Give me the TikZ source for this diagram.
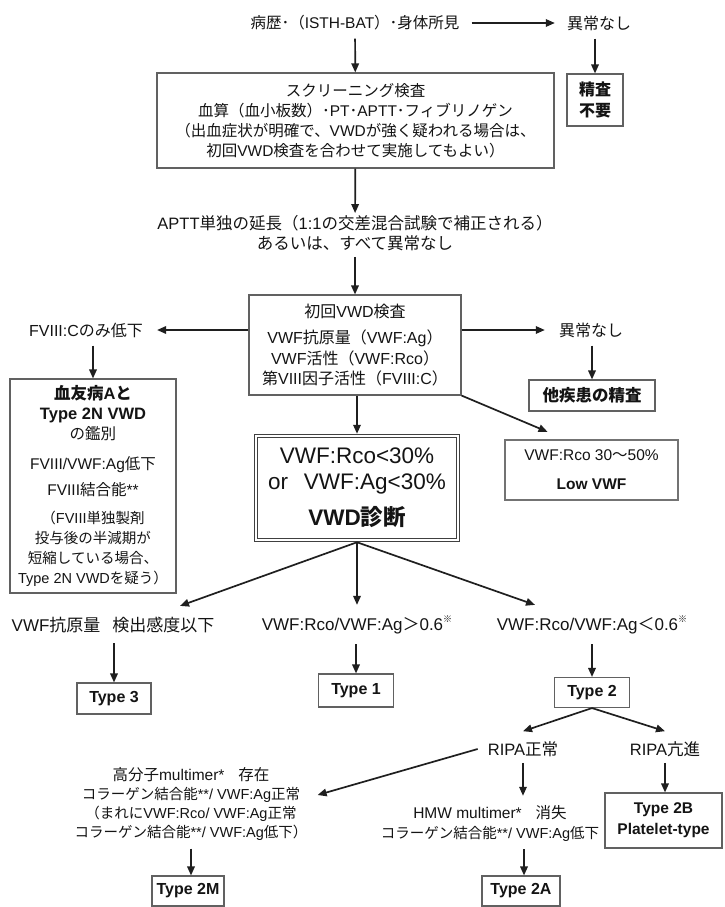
\documentclass[tikz,border=0pt]{standalone}
\usepackage{fontspec}
\setmainfont{Liberation Sans}
\newfontfamily\cjkfont{Noto Sans CJK JP}
\newfontfamily\latfont{Liberation Sans}
\XeTeXinterchartokenstate=1
\makeatletter
\def\setcjkrange#1#2{\count@=#1\relax
  \loop\XeTeXcharclass\count@=1\relax
  \ifnum\count@<#2\relax\advance\count@ by 1\repeat}
\setcjkrange{"3000}{"30FF}
\setcjkrange{"3400}{"9FFF}
\setcjkrange{"FF00}{"FFEF}
\XeTeXcharclass"203B=1
\makeatother
\XeTeXinterchartoks 0 1 = {\cjkfont}
\XeTeXinterchartoks 4095 1 = {\cjkfont}
\XeTeXinterchartoks 1 0 = {\latfont}
\XeTeXinterchartoks 4095 0 = {\latfont}
\usetikzlibrary{arrows.meta,calc}
\newcommand{\sups}[1]{\raisebox{0.45em}{\fontsize{9}{9}\selectfont #1}}
\newcommand{\hbig}[1]{{\bfseries\fontsize{16.5}{20}\selectfont #1}}
\newcommand{\hsml}[1]{{\fontsize{14.5}{20}\selectfont #1}}
\begin{document}
\begin{tikzpicture}[x=1pt,y=-1pt,
  every node/.style={text=black!92},
  ar/.style={line width=1.7pt,draw=black!88,-{Triangle[length=9pt,width=7.5pt]}},
  box/.style={draw=black!62,line width=1.1pt,inner sep=0pt,align=center},
  txt/.style={inner sep=2pt,align=center},
  fA/.style={font=\fontsize{16}{20}\selectfont},
  fL/.style={font=\fontsize{17}{20}\selectfont},
  tp/.style={box,font=\bfseries\fontsize{16}{20}\selectfont,minimum height=31pt}]
\fill[white] (0,0) rectangle (724,907);
\useasboundingbox (0,0) rectangle (724,907);

% nodes
\node[txt,font=\fontsize{15.5}{20}\selectfont] (hist) at (355,23) {病歴･（ISTH-BAT）･身体所見};
\node[txt,fA] (nor1) at (599,23) {異常なし};
\node[box,font=\bfseries\fontsize{16}{21}\selectfont,minimum width=56pt,minimum height=52pt] (nopre) at (595,100) {精査\\不要};
\node[box,font=\fontsize{15.5}{20}\selectfont,minimum width=397pt,minimum height=95pt] (screen) at (355.5,120.5) {スクリーニング検査\\血算（血小板数）･PT･APTT･フィブリノゲン\\（出血症状が明確で、VWDが強く疑われる場合は、\\初回VWD検査を合わせて実施してもよい）};
\node[txt,font=\fontsize{16.5}{20}\selectfont] (aptt) at (355,233) {APTT単独の延長（1:1の交差混合試験で補正される）\\あるいは、すべて異常なし};
\node[box,font=\fontsize{16}{20.5}\selectfont,minimum width=212pt,minimum height=100pt] (init) at (355,345) {初回VWD検査\\[6pt]VWF抗原量（VWF:Ag）\\VWF活性（VWF:Rco）\\第VIII因子活性（FVIII:C）};
\node[txt,fA] (fv) at (86,330) {FVIII:Cのみ低下};
\node[txt,fA] (nor2) at (591,330) {異常なし};
\node[box,font=\fontsize{15.5}{20}\selectfont,minimum width=166pt,minimum height=214pt] (hemo) at (93,486) {\hbig{血友病Aと}\\\hbig{Type 2N VWD}\\の鑑別\\[10pt]FVIII/VWF:Ag低下\\[6pt]FVIII結合能**\\[8pt]\hsml{（FVIII単独製剤}\\\hsml{投与後の半減期が}\\\hsml{短縮している場合、}\\\hsml{Type 2N VWDを疑う）}};
\node[box,font=\bfseries\fontsize{16.5}{20}\selectfont,minimum width=126pt,minimum height=31pt] (other) at (592,395.5) {他疾患の精査};
\node[box,draw=black!55,line width=2.4pt,font=\fontsize{15.5}{29}\selectfont,minimum width=173pt,minimum height=60pt] (low) at (591.5,470) {VWF:Rco 30～50\%\\\textbf{Low VWF}};
\node[box,draw=black!75,line width=1.5pt,font=\fontsize{22.5}{26}\selectfont,minimum width=205pt,minimum height=107pt] (vwd) at (357,488) {VWF:Rco<30\%\\or\hspace{0.7em}VWF:Ag<30\%\\[10pt]\textbf{VWD診断}};
\draw[draw=black!75,line width=1pt] ([shift={(3.6pt,-3.6pt)}]vwd.north west) rectangle ([shift={(-3.6pt,3.6pt)}]vwd.south east);

\node[txt,fL] (l3) at (113,625) {VWF抗原量\hspace{0.7em}検出感度以下};
\node[txt,fL] (l1) at (357,625) {VWF:Rco/VWF:Ag＞0.6\sups{※}};
\node[txt,fL] (l2) at (592,625) {VWF:Rco/VWF:Ag＜0.6\sups{※}};
\node[tp,minimum width=74pt] (t3) at (114,698.5) {Type 3};
\node[tp,minimum width=75pt,minimum height=33pt] (t1) at (356,690.5) {Type 1};
\node[tp,minimum width=75pt,minimum height=30pt] (t2) at (592,692.5) {Type 2};

\node[txt,font=\fontsize{16.5}{20}\selectfont] (ripan) at (523,749) {RIPA正常};
\node[txt,font=\fontsize{16.5}{20}\selectfont] (ripau) at (665,749) {RIPA亢進};
\node[txt,font=\fontsize{14.5}{19}\selectfont] (mleft) at (191,804) {{\fontsize{15.5}{19}\selectfont 高分子multimer*\hspace{0.9em}存在}\\コラーゲン結合能**/ VWF:Ag正常\\（まれにVWF:Rco/ VWF:Ag正常\\コラーゲン結合能**/ VWF:Ag低下）};
\node[txt,font=\fontsize{14.5}{20}\selectfont] (hmw) at (490,823) {{\fontsize{15.5}{20}\selectfont HMW multimer*\hspace{0.9em}消失}\\コラーゲン結合能**/ VWF:Ag低下};
\node[tp,font=\bfseries\fontsize{15.5}{21}\selectfont,minimum width=117pt,minimum height=55pt] (t2b) at (663.5,820.5) {Type 2B\\Platelet-type};
\node[tp,minimum width=72pt,minimum height=30pt] (t2m) at (188,891) {Type 2M};
\node[tp,minimum width=78pt,minimum height=30pt] (t2a) at (521,891) {Type 2A};

% connectors
\draw[ar,shorten <=10pt,shorten >=10pt] (hist) -- (nor1);
\draw[ar,shorten <=6pt] (hist) -- (screen);
\draw[ar,shorten <=6pt] (nopre |- nor1.south) -- (nopre.north);
\draw[ar] (screen) -- (aptt);
\draw[ar,shorten <=4pt] (aptt) -- (init);
\draw[ar] (init.west |- fv) -- ([xshift=12pt]fv.east);
\draw[ar] (init.east |- nor2) -- ([xshift=-12pt]nor2.west);
\draw[ar,shorten <=6pt] (hemo |- fv.south) -- (hemo.north);
\draw[ar,shorten <=6pt] (other |- nor2.south) -- (other.north);
\draw[ar] (init.south east) -- ([xshift=-44pt,yshift=7pt]low.north);
\draw[ar] (vwd.north |- init.south) -- (vwd.north);
\draw[ar] (vwd.south) -- ([xshift=67pt,yshift=9pt]l3.north);
\draw[ar] (vwd.south) -- ([yshift=9pt]vwd.south |- l1.north);
\draw[ar] (vwd.south) -- ([xshift=-57pt,yshift=9pt]l2.north);
\draw[ar,shorten <=8pt] (t3 |- l3.south) -- (t3.north);
\draw[ar,shorten <=8pt] (t1 |- l1.south) -- (t1.north);
\draw[ar,shorten <=8pt] (t2 |- l2.south) -- (t2.north);
\draw[ar] (t2.south) -- ([xshift=0pt,yshift=8pt]ripan.north);
\draw[ar] (t2.south) -- ([yshift=8pt]ripau.north);
\draw[ar] ([xshift=-8pt]ripan.west) -- ([xshift=8pt,yshift=9pt]mleft.east);
\draw[ar,shorten <=4pt,shorten >=7pt] (ripan.south) -- (ripan.south |- hmw.north);
\draw[ar,shorten <=4pt] (ripau.south) -- (ripau.south |- t2b.north);
\draw[ar,shorten <=6pt] ([xshift=3pt]t2m |- mleft.south) -- ([xshift=3pt]t2m.north);
\draw[ar,shorten <=6pt] ([xshift=3pt]t2a |- hmw.south) -- ([xshift=3pt]t2a.north);
\end{tikzpicture}
\end{document}
